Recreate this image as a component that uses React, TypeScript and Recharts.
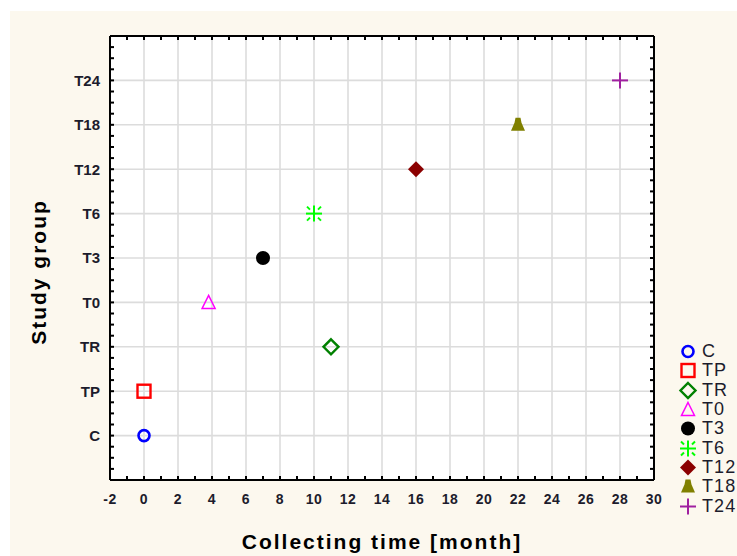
import React from "react";
import { ScatterChart, Scatter, XAxis, YAxis, CartesianGrid, Legend } from "recharts";

// study groups, their row on the y axis, and collecting time in months
const groups = ["C", "TP", "TR", "T0", "T3", "T6", "T12", "T18", "T24"];
const groupRows = [1, 2, 3, 4, 5, 6, 7, 8, 9];
const months = [0, 0, 11, 3.8, 7, 10, 16, 22, 28];
const colors = ["#0000ff", "#ff0000", "#008000", "#ff00ff", "#000000", "#00ff00", "#8b0000", "#808000", "#a020a0"];
const shapes = ["ring", "box", "rhomb", "tri", "dot", "star", "rhombFill", "pawn", "plus"];

const xTicks = [-2, 0, 2, 4, 6, 8, 10, 12, 14, 16, 18, 20, 22, 24, 26, 28, 30];
const xMinor = Array.from({ length: 33 }, (_, i) => i - 2);
const yMinor = Array.from({ length: 41 }, (_, i) => i * 0.25);

// all axes share the same domain; the frame axes need a series bound to them to get a scale
const xAxisOf = ["xb", "xt", 0, 0, 0, 0, 0, 0, 0];
const yAxisOf = ["yl", "yr", 0, 0, 0, 0, 0, 0, 0];

const W = 737;
const H = 556;
const TXT = "#1c1c2c";
const FONT = "Arial, 'Liberation Sans', sans-serif";

function Marker({ kind, color, cx, cy }: { kind: string; color: string; cx: number; cy: number }) {
  switch (kind) {
    case "ring":
      return <circle cx={cx} cy={cy} r={5.5} fill="none" stroke={color} strokeWidth={2.6} />;
    case "box":
      return <rect x={cx - 6.5} y={cy - 6.5} width={13} height={13} fill="none" stroke={color} strokeWidth={2.4} />;
    case "rhomb":
      return <polygon points={`${cx},${cy - 7.5} ${cx + 7.5},${cy} ${cx},${cy + 7.5} ${cx - 7.5},${cy}`} fill="none" stroke={color} strokeWidth={2.4} />;
    case "tri":
      return <polygon points={`${cx},${cy - 7} ${cx + 6.5},${cy + 6} ${cx - 6.5},${cy + 6}`} fill="none" stroke={color} strokeWidth={1.5} />;
    case "dot":
      return <circle cx={cx} cy={cy} r={7} fill={color} />;
    case "star":
      return (
        <g stroke={color} strokeWidth={2}>
          <line x1={cx - 8} y1={cy} x2={cx + 8} y2={cy} />
          <line x1={cx} y1={cy - 8} x2={cx} y2={cy + 8} />
          <line x1={cx - 7} y1={cy - 7} x2={cx - 4} y2={cy - 4} />
          <line x1={cx + 7} y1={cy - 7} x2={cx + 4} y2={cy - 4} />
          <line x1={cx - 7} y1={cy + 7} x2={cx - 4} y2={cy + 4} />
          <line x1={cx + 7} y1={cy + 7} x2={cx + 4} y2={cy + 4} />
        </g>
      );
    case "rhombFill":
      return <polygon points={`${cx},${cy - 8} ${cx + 8},${cy} ${cx},${cy + 8} ${cx - 8},${cy}`} fill={color} />;
    case "pawn":
      return (
        <polygon
          points={`${cx - 2.5},${cy - 7} ${cx + 2.5},${cy - 7} ${cx + 3.5},${cy - 2} ${cx + 7},${cy + 6} ${cx - 7},${cy + 6} ${cx - 3.5},${cy - 2}`}
          fill={color}
        />
      );
    default:
      return (
        <g stroke={color} strokeWidth={2}>
          <line x1={cx - 8} y1={cy} x2={cx + 8} y2={cy} />
          <line x1={cx} y1={cy - 8} x2={cx} y2={cy + 8} />
        </g>
      );
  }
}

const LegendBox = () => (
  <div style={{ fontFamily: FONT, fontSize: 18, letterSpacing: 1.1, color: TXT }}>
    {groups.map((g, i) => (
      <div key={g} style={{ display: "flex", alignItems: "center", height: 19.3, whiteSpace: "nowrap" }}>
        <svg width={20} height={19} style={{ marginRight: 4 }}>
          <Marker kind={shapes[i]} color={colors[i]} cx={10} cy={9.5} />
        </svg>
        <span>{g}</span>
      </div>
    ))}
  </div>
);

const NoLabel = () => <g />;

const xTickStyle = { fill: TXT, fontSize: 14, fontWeight: 700, fontFamily: FONT, letterSpacing: 0.5 };
const yTickStyle = { fill: TXT, fontSize: 15, fontWeight: 700, fontFamily: FONT };
const minorLine = { stroke: "#000", strokeWidth: 2 };
const titleStyle = { fill: "#000", fontSize: 21, fontWeight: 700, letterSpacing: 2, fontFamily: FONT };

export default function App() {
  return (
    <div style={{ position: "fixed", left: 0, top: 0, width: W, height: H, overflow: "hidden", background: "#fff" }}>
      <div style={{ position: "absolute", left: 10, top: 11, right: 0, bottom: 0, background: "#fcf8ee" }} />
      <div style={{ position: "absolute", left: 0, top: 0 }}>
        <ScatterChart width={W} height={H} margin={{ top: 36, right: 83, bottom: 46, left: 50 }}>
          <CartesianGrid fill="#fff" stroke="#dcdcdc" strokeWidth={1.6} />
          <XAxis
            type="number"
            dataKey="x"
            domain={[-2, 30]}
            ticks={xTicks}
            interval={0}
            height={30}
            fontSize={14}
            tickLine={false}
            tickMargin={8}
            axisLine={{ stroke: "#000", strokeWidth: 2 }}
            tick={xTickStyle}
            label={{ value: "Collecting time [month]", position: "bottom", offset: 24, style: titleStyle }}
          />
          <YAxis
            type="number"
            dataKey="y"
            domain={[0, 10]}
            ticks={groupRows}
            interval={0}
            width={60}
            fontSize={15}
            tickLine={false}
            tickMargin={4}
            axisLine={{ stroke: "#000", strokeWidth: 2 }}
            tick={yTickStyle}
            tickFormatter={(v: number) => groups[groupRows.indexOf(v)] ?? ""}
            label={{
              value: "Study group",
              content: ({ viewBox }: any) => {
                const x = viewBox.x - 12;
                const y = viewBox.y + viewBox.height / 2 + 14;
                return (
                  <text x={x} y={y} transform={`rotate(-90, ${x}, ${y})`} textAnchor="middle" dominantBaseline="central" style={titleStyle}>
                    Study group
                  </text>
                );
              },
            }}
          />
          {/* inward minor ticks on all four sides */}
          <XAxis xAxisId="xb" dataKey="x" type="number" orientation="bottom" mirror domain={[-2, 30]} ticks={xMinor} interval={0} tick={NoLabel} tickSize={4} tickLine={minorLine} axisLine={false} />
          <XAxis xAxisId="xt" dataKey="x" type="number" orientation="top" mirror domain={[-2, 30]} ticks={xMinor} interval={0} tick={NoLabel} tickSize={4} tickLine={minorLine} axisLine={{ stroke: "#000", strokeWidth: 2 }} />
          <YAxis yAxisId="yl" dataKey="y" type="number" orientation="left" mirror domain={[0, 10]} ticks={yMinor} interval={0} tick={NoLabel} tickSize={4} tickLine={minorLine} axisLine={false} />
          <YAxis yAxisId="yr" dataKey="y" type="number" orientation="right" mirror domain={[0, 10]} ticks={yMinor} interval={0} tick={NoLabel} tickSize={4} tickLine={minorLine} axisLine={{ stroke: "#000", strokeWidth: 2 }} />
          {groups.map((g, i) => (
            <Scatter
              key={g}
              name={g}
              data={[{ x: months[i], y: groupRows[i] }]}
              xAxisId={xAxisOf[i]}
              yAxisId={yAxisOf[i]}
              fill={colors[i]}
              isAnimationActive={false}
              shape={(p: any) => <Marker kind={shapes[i]} color={colors[i]} cx={p.cx} cy={p.cy} />}
            />
          ))}
          <Legend
            layout="vertical"
            align="center"
            verticalAlign="middle"
            content={() => <LegendBox />}
            wrapperStyle={{ left: 678, top: 342, width: 80 }}
          />
        </ScatterChart>
      </div>
    </div>
  );
}
